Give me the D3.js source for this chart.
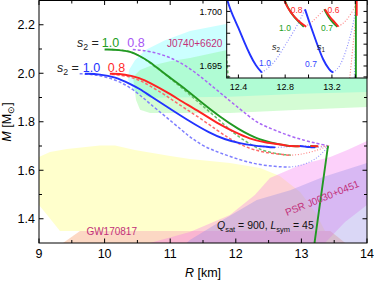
<!DOCTYPE html>
<html>
<head>
<meta charset="utf-8">
<script src="https://cdn.jsdelivr.net/npm/d3@7"></script>
<style>
  body { margin: 0; background: #fff; }
  svg { display: block; font-family: "Liberation Sans", Arial, sans-serif; }
</style>
</head>
<body>
<svg id="chart" width="374" height="281"></svg>
<script>
// tick values
const xTicks = [9, 10, 11, 12, 13, 14];
const yTicks = [1.4, 1.6, 1.8, 2.0, 2.2];
const insetXTicks = [12.4, 12.8, 13.2];
const insetYTicks = [1.695, 1.700];

// mass-radius branches, [R (km), M (Msun)]
const blueSolid = [[9.70,1.998],[9.93,1.996],[10.16,1.985],[10.39,1.956],[10.54,1.935],[10.69,1.907],[10.99,1.855],[11.30,1.801],[11.60,1.754],[11.83,1.727],[12.06,1.711],[12.30,1.7009],[12.35,1.6997],[12.40,1.6985],[12.45,1.6972],[12.50,1.6960],[12.55,1.6950],[12.60,1.6944]];
const blueDotted1 = [[12.60,1.6944],[12.67,1.6949],[12.74,1.6958],[12.81,1.6971],[12.90,1.6986],[12.97,1.7002]];
const blueSolid1 = [[12.97,1.7002],[13.01,1.6989],[13.07,1.6971],[13.125,1.6955],[13.18,1.6946],[13.21,1.6944]];
const blueDotted2 = [[13.21,1.6944],[13.27,1.6949],[13.325,1.6965],[13.38,1.6986],[13.41,1.7006],[13.412,1.7012]];
const redSolid = [[10.08,1.998],[10.31,1.996],[10.54,1.981],[10.69,1.960],[10.92,1.927],[11.19,1.882],[11.45,1.841],[11.76,1.787],[11.98,1.758],[12.21,1.729],[12.44,1.715],[12.71,1.705],[12.78,1.7010],[12.84,1.7000],[12.91,1.6991],[12.98,1.6986]];
const greenSolid = [[10.00,2.098],[10.23,2.096],[10.39,2.090],[10.54,2.071],[10.69,2.047],[10.84,2.014],[10.99,1.983],[11.15,1.952],[11.45,1.886],[11.76,1.820],[12.06,1.766],[12.21,1.746],[12.36,1.727],[12.52,1.715],[12.74,1.703],[12.79,1.7010],[12.85,1.6998],[12.92,1.6990],[12.96,1.6986]];
const rgDotted1 = [[12.97,1.6986],[13.03,1.6990],[13.08,1.6996],[13.14,1.7002]];
const redSolid1 = [[13.14,1.7002],[13.18,1.6995],[13.225,1.6990],[13.255,1.6986]];
const greenSolid1 = [[13.135,1.7002],[13.175,1.6994],[13.215,1.6989],[13.245,1.6986]];
const rgDotted2 = [[13.255,1.6986],[13.31,1.6990],[13.36,1.6997],[13.405,1.7006],[13.41,1.7012]];
const greenDrop = [[13.405,1.7012],[13.405,1.6939],[13.40,1.69],[13.20,1.30]];
const redDrop = [[13.412,1.7012],[13.412,1.6996]];

const redDashed = [[10.11,1.995],[10.31,1.991],[10.54,1.972],[10.69,1.948],[10.92,1.911],[11.19,1.861],[11.45,1.816],[11.71,1.766],[11.91,1.729],[12.11,1.701],[12.29,1.682],[12.52,1.670],[12.82,1.662]];
const greenDashed = [[10.11,2.098],[10.31,2.094],[10.46,2.084],[10.61,2.059],[10.84,2.014],[11.07,1.964],[11.30,1.911],[11.53,1.857],[11.76,1.804],[11.98,1.750],[12.14,1.721],[12.29,1.696],[12.44,1.678],[12.67,1.666],[12.85,1.662]];
const rgDottedLow = [[12.82,1.662],[12.97,1.664],[13.13,1.674],[13.28,1.686],[13.40,1.699]];
const purpleDashed = [[10.43,2.098],[10.69,2.092],[11.00,2.067],[11.30,2.022],[11.60,1.956],[11.91,1.886],[12.21,1.820],[12.36,1.791],[12.59,1.766],[12.82,1.741],[13.05,1.723],[13.23,1.711],[13.40,1.701]];
const blueDashed = [[9.62,1.998],[9.85,1.995],[10.08,1.981],[10.31,1.956],[10.54,1.911],[10.69,1.874],[10.92,1.824],[11.19,1.762],[11.34,1.729],[11.53,1.696],[11.76,1.671],[12.06,1.643],[12.32,1.624],[12.60,1.615],[12.82,1.613]];
const blueDottedLow = [[12.82,1.613],[12.97,1.618],[13.13,1.633],[13.25,1.653],[13.34,1.676],[13.40,1.697]];

// observational regions
const gwHeavy = [[9.00,1.655],[9.168,1.675],[9.427,1.688],[9.93,1.702],[10.16,1.702],[10.46,1.684],[11.00,1.659],[11.30,1.646],[11.91,1.630],[12.37,1.609],[12.67,1.576],[12.98,1.510],[13.21,1.428],[13.36,1.349],[9.32,1.349],[9.137,1.411],[9.00,1.457]];
const gwLight = [[9.366,1.30],[9.625,1.349],[13.44,1.349],[13.67,1.30]];
const j0030a = [[10.69,1.30],[11.30,1.345],[11.91,1.415],[12.29,1.498],[12.52,1.568],[12.98,1.622],[13.44,1.655],[13.70,1.684],[14.0,1.721],[14.0,1.457],[13.665,1.387],[13.36,1.30]];
const j0030b = [[11.25,1.30],[11.30,1.312],[11.80,1.395],[12.32,1.477],[12.83,1.518],[13.33,1.572],[14.0,1.630],[14.0,1.30]];
const j0740a = [[10.357,1.972],[10.372,2.013],[10.463,2.054],[10.616,2.095],[10.921,2.136],[11.302,2.174],[11.851,2.203],[12.979,2.240],[14.0,2.253],[14.0,1.923],[12.979,1.915],[11.912,1.903],[10.692,1.899],[10.463,1.923]];
const j0740b = [[10.433,1.985],[10.54,2.013],[10.692,2.030],[10.997,2.050],[11.302,2.063],[11.851,2.095],[12.979,2.157],[14.0,2.177],[14.0,1.861],[12.979,1.849],[11.912,1.836],[10.692,1.836],[10.54,1.849],[10.479,1.890]];

const svg = d3.select('#chart');
const x = d3.scaleLinear([9, 14], [39, 367]);
const y = d3.scaleLinear([1.3, 2.3], [243, 0.5]);
const ix = d3.scaleLinear([12.3, 13.5], [226.7, 367]);
const iy = d3.scaleLinear([1.6939, 1.7010], [78, 0.5]);

const labelColor = '#c2307a';

svg.append('clipPath').attr('id', 'plotclip')
    .append('rect').attr('x', 39).attr('y', 0.5).attr('width', 328).attr('height', 242.5);
svg.append('clipPath').attr('id', 'insetclip')
    .append('rect').attr('x', 226.7).attr('y', 0.5).attr('width', 140.3).attr('height', 77.5);

const plot = svg.append('g').attr('clip-path', 'url(#plotclip)');

// shaded constraints
[[j0740a, 'rgb(85,255,255)', 0.3],
 [j0740b, 'rgb(112,245,112)', 0.3],
 [gwHeavy, 'rgb(255,255,153)', 0.5],
 [gwLight, 'rgb(245,125,58)', 0.3],
 [j0030a, 'rgb(245,98,240)', 0.3],
 [j0030b, 'rgb(150,140,230)', 0.35]].forEach(function(r) {
    plot.append('polygon')
        .attr('points', r[0].map(d => [x(d[0]), y(d[1])].join(',')).join(' '))
        .attr('fill', r[1])
        .attr('fill-opacity', r[2]);
});

const styles = {
    solid:  {w: 1.9, dash: null},
    dashed: {w: 1.5, dash: '3,2'},
    dotted: {w: 1.1, dash: '1,1.8'}
};

const curves = [
    [blueDashed, '#7f7fff', 'dashed'],
    [blueDottedLow, '#9a9aff', 'dotted'],
    [purpleDashed, '#a866f5', 'dashed'],
    [greenDashed, '#6cbf6c', 'dashed'],
    [redDashed, '#ff6a6a', 'dashed'],
    [rgDottedLow, '#ff8080', 'dotted'],
    [blueDotted1, '#8888ff', 'dotted'],
    [blueDotted2, '#8888ff', 'dotted'],
    [rgDotted1, '#ff8080', 'dotted'],
    [rgDotted2, '#ff8080', 'dotted'],
    [blueSolid, '#2233ff', 'solid'],
    [blueSolid1, '#2233ff', 'solid'],
    [greenSolid, '#229922', 'solid'],
    [greenSolid1, '#229922', 'solid'],
    [redSolid, '#ff2222', 'solid'],
    [redSolid1, '#ff2222', 'solid'],
    [greenDrop, '#229922', 'solid'],
    [redDrop, '#ff2222', 'solid']
];

function drawCurves(g, sx, sy) {
    curves.forEach(function(c) {
        let smooth = c[0] !== greenDrop && c[0] !== redDrop;
        let line = d3.line().x(d => sx(d[0])).y(d => sy(d[1]))
            .curve(smooth ? d3.curveBasis : d3.curveLinear);
        g.append('path')
            .attr('d', line(c[0]))
            .attr('fill', 'none')
            .attr('stroke', c[1])
            .attr('stroke-width', styles[c[2]].w)
            .attr('stroke-dasharray', styles[c[2]].dash);
    });
}
drawCurves(plot, x, y);

// frame and inward ticks
function frame(g, sx, sy, xt, xminor, yt, yminor, major, minor) {
    let r = sx.range(), t = sy.range();
    g.append('rect')
        .attr('x', r[0]).attr('y', t[1])
        .attr('width', r[1] - r[0]).attr('height', t[0] - t[1])
        .attr('fill', 'none').attr('stroke', '#000').attr('stroke-width', 1);
    [[xt, major], [xminor, minor]].forEach(function(s) {
        s[0].forEach(function(v) {
            g.append('line').attr('x1', sx(v)).attr('x2', sx(v))
                .attr('y1', t[0]).attr('y2', t[0] - s[1]).attr('stroke', '#000');
            g.append('line').attr('x1', sx(v)).attr('x2', sx(v))
                .attr('y1', t[1]).attr('y2', t[1] + s[1]).attr('stroke', '#000');
        });
    });
    [[yt, major], [yminor, minor]].forEach(function(s) {
        s[0].forEach(function(v) {
            g.append('line').attr('y1', sy(v)).attr('y2', sy(v))
                .attr('x1', r[0]).attr('x2', r[0] + s[1]).attr('stroke', '#000');
            g.append('line').attr('y1', sy(v)).attr('y2', sy(v))
                .attr('x1', r[1]).attr('x2', r[1] - s[1]).attr('stroke', '#000');
        });
    });
}

const axes = svg.append('g');
frame(axes, x, y, xTicks, d3.range(9.5, 14, 1), yTicks, [1.5, 1.7, 1.9, 2.1], 4.5, 3);

axes.selectAll('text.xt').data(xTicks).enter().append('text')
    .attr('x', d => x(d)).attr('y', 258)
    .attr('text-anchor', 'middle').attr('font-size', 12.5)
    .text(d => d);
axes.selectAll('text.yt').data(yTicks).enter().append('text')
    .attr('x', 35).attr('y', d => y(d)).attr('dy', '0.35em')
    .attr('text-anchor', 'end').attr('font-size', 12.5)
    .text(d3.format('.1f'));

let xl = axes.append('text').attr('x', 203).attr('y', 277)
    .attr('text-anchor', 'middle').attr('font-size', 12.5);
xl.append('tspan').attr('font-style', 'italic').text('R');
xl.append('tspan').text(' [km]');

let yl = axes.append('text').attr('transform', 'translate(11,122) rotate(-90)')
    .attr('text-anchor', 'middle').attr('font-size', 12.5);
yl.append('tspan').attr('font-style', 'italic').text('M');
yl.append('tspan').text(' [M');
yl.append('tspan').attr('font-size', 8.5).attr('dy', 3).text('⊙');
yl.append('tspan').attr('dy', -3).text(']');

// inset
const inset = svg.append('g');
inset.append('rect').attr('x', 226.7).attr('y', 0.5).attr('width', 140.3).attr('height', 77.5)
    .attr('fill', '#fff');
drawCurves(inset.append('g').attr('clip-path', 'url(#insetclip)'), ix, iy);
frame(inset, ix, iy, [12.4, 12.6, 12.8, 13.0, 13.2, 13.4], [],
      [1.694, 1.695, 1.696, 1.697, 1.698, 1.699, 1.700, 1.701], [], 3.5, 0);
inset.selectAll('text.ixt').data(insetXTicks).enter().append('text')
    .attr('x', d => ix(d)).attr('y', 90)
    .attr('text-anchor', 'middle').attr('font-size', 9)
    .text(d3.format('.1f'));
inset.selectAll('text.iyt').data(insetYTicks).enter().append('text')
    .attr('x', 222).attr('y', d => iy(d)).attr('dy', '0.35em')
    .attr('text-anchor', 'end').attr('font-size', 9)
    .text(d3.format('.3f'));

function sLabel(g, px, py, sub, size) {
    let t = g.append('text').attr('x', px).attr('y', py).attr('font-size', size).attr('fill', '#222');
    t.append('tspan').attr('font-style', 'italic').text('s');
    t.append('tspan').attr('font-size', size * 0.7).attr('dy', size * 0.25).text(sub);
    return t;
}
sLabel(inset, 272, 50, '2', 9);
sLabel(inset, 317, 50, '1', 9);

function numLabel(g, px, py, txt, col, size) {
    g.append('text').attr('x', px).attr('y', py).attr('text-anchor', 'middle')
        .attr('font-size', size).attr('fill', col).text(txt);
}
numLabel(inset, 265, 66, '1.0', '#3344ff', 8.5);
numLabel(inset, 311, 67, '0.7', '#3344ff', 8.5);
numLabel(inset, 296.7, 12.5, '0.8', '#ff2a2a', 8.5);
numLabel(inset, 333.5, 12.5, '0.6', '#ff2a2a', 8.5);
numLabel(inset, 285, 30.5, '1.0', '#22a022', 8.5);
numLabel(inset, 327, 30.5, '0.7', '#22a022', 8.5);

// main annotations
let up = sLabel(svg, 77, 47, '2', 12.5);
up.append('tspan').attr('dy', -3).text(' =');
numLabel(svg, 110.5, 47, '1.0', '#22a022', 12.5);
numLabel(svg, 136, 47, '0.8', '#a855f5', 12.5);
let lo = sLabel(svg, 57, 72, '2', 12.5);
lo.append('tspan').attr('dy', -3).text(' =');
numLabel(svg, 91.5, 72, '1.0', '#2233ff', 12.5);
numLabel(svg, 116.5, 72, '0.8', '#ff2a2a', 12.5);

svg.append('text').attr('x', 167).attr('y', 47).attr('font-size', 10)
    .attr('fill', labelColor).text('J0740+6620');
svg.append('text').attr('x', 111.7).attr('y', 235).attr('text-anchor', 'middle')
    .attr('font-size', 10).attr('fill', labelColor).text('GW170817');
svg.append('text').attr('transform', 'translate(287,216) rotate(-22)')
    .attr('font-size', 10).attr('fill', labelColor).text('PSR J0030+0451');

let q = svg.append('text').attr('x', 217).attr('y', 229).attr('font-size', 10.5).attr('fill', '#111');
q.append('tspan').attr('font-style', 'italic').text('Q');
q.append('tspan').attr('font-size', 7.5).attr('dy', 2.5).text('sat');
q.append('tspan').attr('dy', -2.5).text(' = 900, ');
q.append('tspan').attr('font-style', 'italic').text('L');
q.append('tspan').attr('font-size', 7.5).attr('dy', 2.5).text('sym');
q.append('tspan').attr('dy', -2.5).text(' = 45');
</script>
</body>
</html>
